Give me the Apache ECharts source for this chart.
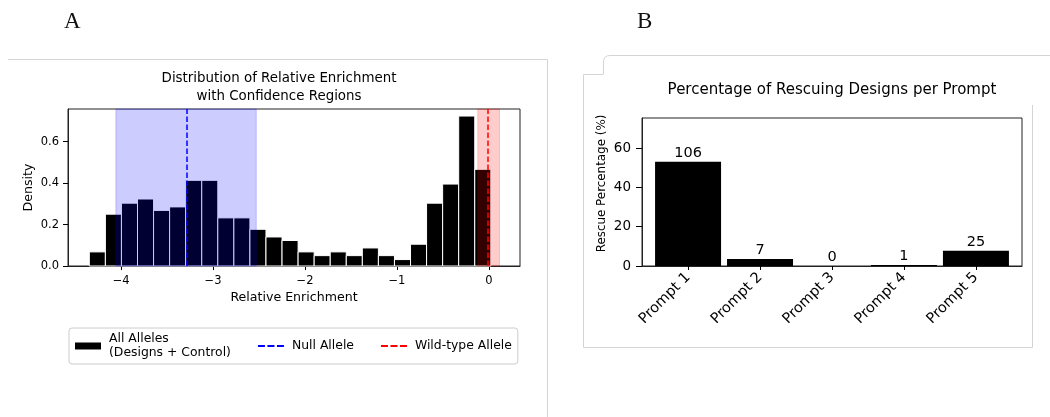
<!DOCTYPE html>
<html>
<head>
<meta charset="utf-8">
<script src="https://cdn.jsdelivr.net/npm/echarts@6/dist/echarts.min.js"></script>
<style>
  html, body { margin: 0; padding: 0; background: #fff; }
  #main { width: 1050px; height: 417px; }
</style>
</head>
<body>
<div id="main"></div>
<script>
// histogram (panel A)
const binMin = -4.346;
const binWidth = 0.1747;
const density = [0.068, 0.250, 0.303, 0.323, 0.268, 0.285, 0.413, 0.413, 0.232, 0.232,
                 0.177, 0.140, 0.123, 0.068, 0.050, 0.068, 0.050, 0.087, 0.050, 0.031,
                 0.105, 0.303, 0.395, 0.723, 0.466];
const xTicksA = [-4, -3, -2, -1, 0];
const yTicksA = [0, 0.2, 0.4, 0.6];
const nullAllele = -3.29;
const wildAllele = -0.005;
const spanLo = [-4.057, -0.12];
const spanHi = [-2.530, 0.116];
const spanColors = ['rgba(0,0,255,0.2)', 'rgba(255,0,0,0.2)'];

// bars (panel B)
const prompts = ['Prompt 1', 'Prompt 2', 'Prompt 3', 'Prompt 4', 'Prompt 5'];
const rescuePct = [53.0, 3.5, 0, 0.5, 7.8];
const rescueCount = [106, 7, 0, 1, 25];
const yTicksB = [0, 20, 40, 60];

const yMaxA = 0.757;
const yMaxB = 75.3;

function minus(v){
    return v < 0 ? '\u2212' + (-v) : String(v);
}

let histData = density.map((d, i) => [binMin + i * binWidth, binMin + (i + 1) * binWidth, d]);
let spanData = spanLo.map((lo, i) => [lo, spanHi[i]]);

const borderStyle = { stroke: '#d4d4d4', lineWidth: 1, fill: null };
const dashIcon = 'path://M0,0h7v2h-7zM9.5,0h7v2h-7zM19,0h7v2h-7z';

let myChart = echarts.init(document.getElementById('main'));
let option = {
    animation: false,
    textStyle: { fontFamily: 'DejaVu Sans', color: '#000' },
    title: [
        {
            text: 'Distribution of Relative Enrichment\nwith Confidence Regions',
            left: 274, top: 65, textAlign: 'center',
            textStyle: { fontSize: 13.4, fontWeight: 'normal', lineHeight: 18, color: '#000' }
        },
        {
            text: 'Percentage of Rescuing Designs per Prompt',
            left: 827, top: 78, textAlign: 'center',
            textStyle: { fontSize: 15, fontWeight: 'normal', color: '#000' }
        }
    ],
    legend: {
        left: 69, top: 328,
        padding: [4, 6, 4, 6],
        itemGap: 27,
        itemWidth: 26,
        itemHeight: 7,
        borderColor: '#cccccc',
        borderWidth: 1,
        borderRadius: 3,
        textStyle: { fontSize: 12.4, lineHeight: 14, padding: [0, 0, 0, 3], color: '#000' },
        data: [
            { name: 'All Alleles\n(Designs + Control)', icon: 'rect' },
            { name: 'Null Allele', icon: dashIcon },
            { name: 'Wild-type Allele', icon: dashIcon }
        ]
    },
    grid: [
        { left: 68, right: 530, top: 109, bottom: 151, show: true, borderColor: '#222', borderWidth: 1 },
        { left: 642, right: 28, top: 118, bottom: 151, show: true, borderColor: '#222', borderWidth: 1 }
    ],
    xAxis: [
        {
            type: 'value', gridIndex: 0, min: -4.578, max: 0.339,
            name: 'Relative Enrichment', nameLocation: 'middle', nameGap: 25, nameMoveOverlap: false,
            nameTextStyle: { fontSize: 12.6, color: '#000' },
            axisLine: { show: true, onZero: false, lineStyle: { color: '#222' } },
            axisTick: { show: true, length: 4, customValues: xTicksA, lineStyle: { color: '#000' } },
            axisLabel: { customValues: xTicksA, fontSize: 11.5, color: '#000', margin: 9, formatter: v => minus(v) },
            splitLine: { show: false }
        },
        {
            type: 'value', gridIndex: 1, min: -0.64, max: 4.64,
            axisLine: { show: true, onZero: false, lineStyle: { color: '#222' } },
            axisTick: { show: true, length: 4, customValues: [0, 1, 2, 3, 4], lineStyle: { color: '#000' } },
            axisLabel: {
                customValues: [0, 1, 2, 3, 4], rotate: 45, fontSize: 14.5, color: '#000', margin: 9,
                formatter: v => prompts[Math.round(v)]
            },
            splitLine: { show: false }
        }
    ],
    yAxis: [
        {
            type: 'value', gridIndex: 0, min: 0, max: yMaxA,
            name: 'Density', nameLocation: 'middle', nameGap: 33, nameMoveOverlap: false,
            nameTextStyle: { fontSize: 12.6, color: '#000' },
            axisLine: { show: true, onZero: false, lineStyle: { color: '#222' } },
            axisTick: { show: true, length: 5, customValues: yTicksA, lineStyle: { color: '#000' } },
            axisLabel: { customValues: yTicksA, fontSize: 11.5, color: '#000', margin: 9, formatter: v => v.toFixed(1) },
            splitLine: { show: false }
        },
        {
            type: 'value', gridIndex: 1, min: 0, max: yMaxB,
            name: 'Rescue Percentage (%)', nameLocation: 'middle', nameGap: 34, nameMoveOverlap: false,
            nameTextStyle: { fontSize: 11.9, color: '#000', padding: [0, 0, 0, 17] },
            axisLine: { show: true, onZero: false, lineStyle: { color: '#222' } },
            axisTick: { show: true, length: 6, customValues: yTicksB, lineStyle: { color: '#000' } },
            axisLabel: { customValues: yTicksB, fontSize: 13.5, color: '#000', margin: 11 },
            splitLine: { show: false }
        }
    ],
    graphic: [
        { type: 'text', x: 64, y: 10, style: { text: 'A', font: '23px "Liberation Serif"', fill: '#111' } },
        { type: 'text', x: 637, y: 10, style: { text: 'B', font: '23px "Liberation Serif"', fill: '#111' } },
        { type: 'polyline', shape: { points: [[8, 59.5], [547.5, 59.5], [547.5, 417]] }, style: borderStyle },
        { type: 'polyline', shape: { points: [[603.5, 74], [603.5, 62]] }, style: borderStyle },
        { type: 'bezierCurve', shape: { x1: 603.5, y1: 62, cpx1: 603.5, cpy1: 55.5, x2: 610, y2: 55.5 }, style: borderStyle },
        { type: 'polyline', shape: { points: [[610, 55.5], [1050, 55.5]] }, style: borderStyle },
        { type: 'polyline', shape: { points: [[603.5, 74.5], [583.5, 74.5], [583.5, 347.5], [1032.5, 347.5], [1032.5, 105]] }, style: borderStyle }
    ],
    series: [
        {
            name: 'All Alleles\n(Designs + Control)',
            type: 'custom',
            xAxisIndex: 0, yAxisIndex: 0,
            z: 2,
            itemStyle: { color: '#000' },
            encode: { x: [0, 1], y: 2 },
            data: histData,
            renderItem: function (params, api) {
                let p0 = api.coord([api.value(0), api.value(2)]);
                let p1 = api.coord([api.value(1), 0]);
                return {
                    type: 'rect',
                    shape: { x: p0[0], y: p0[1], width: p1[0] - p0[0], height: p1[1] - p0[1] },
                    style: { fill: '#000', stroke: '#fff', lineWidth: 1 }
                };
            }
        },
        {
            name: 'spans',
            type: 'custom',
            xAxisIndex: 0, yAxisIndex: 0,
            z: 3,
            silent: true,
            encode: { x: [0, 1] },
            data: spanData,
            renderItem: function (params, api) {
                let p0 = api.coord([api.value(0), yMaxA]);
                let p1 = api.coord([api.value(1), 0]);
                let c = spanColors[params.dataIndex];
                return {
                    type: 'rect',
                    shape: { x: p0[0], y: p0[1], width: p1[0] - p0[0], height: p1[1] - p0[1] },
                    style: { fill: c, stroke: c, lineWidth: 1 }
                };
            }
        },
        {
            name: 'Null Allele',
            type: 'line',
            xAxisIndex: 0, yAxisIndex: 0,
            z: 4,
            data: [],
            itemStyle: { color: '#0000ff' },
            lineStyle: { color: '#0000ff', width: 1.5 },
            markLine: {
                silent: true, symbol: 'none', animation: false,
                label: { show: false },
                lineStyle: { color: '#0000ff', type: [5.5, 2.5], width: 1.5 },
                data: [{ xAxis: nullAllele }]
            }
        },
        {
            name: 'Wild-type Allele',
            type: 'line',
            xAxisIndex: 0, yAxisIndex: 0,
            z: 4,
            data: [],
            itemStyle: { color: '#ff0000' },
            lineStyle: { color: '#ff0000', width: 1.5 },
            markLine: {
                silent: true, symbol: 'none', animation: false,
                label: { show: false },
                lineStyle: { color: '#ff0000', type: [5.5, 2.5], width: 1.5 },
                data: [{ xAxis: wildAllele }]
            }
        },
        {
            name: 'Rescue',
            type: 'bar',
            xAxisIndex: 1, yAxisIndex: 1,
            barWidth: 66,
            itemStyle: { color: '#000' },
            label: {
                show: true, position: 'top', distance: 1, fontSize: 14.5, color: '#000',
                formatter: p => String(rescueCount[p.dataIndex])
            },
            data: rescuePct.map((v, i) => [i, v])
        }
    ]
};
myChart.setOption(option);
</script>
</body>
</html>
